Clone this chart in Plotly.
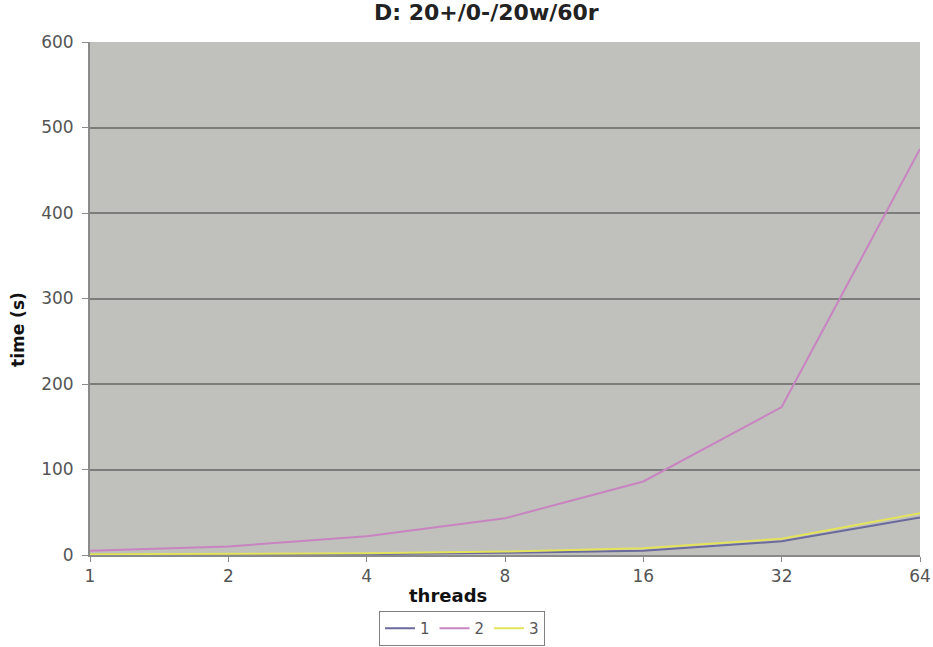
import plotly.graph_objects as go

# Thread counts (categorical x axis) and run times in seconds
threads = ["1", "2", "4", "8", "16", "32", "64"]
series_1 = [0.5, 0.8, 1.0, 2.5, 5, 16, 44]
series_2 = [5, 10, 22, 43, 86, 173, 475]
series_3 = [1.0, 1.5, 2.0, 4.0, 8, 19, 49]

series_names = ["1", "2", "3"]
series_colors = ["#6a6a9c", "#c884c0", "#e4e45c"]

W, H = 933, 647
L, R, T, B = 90, 13, 42, 92
plot_w = W - L - R
plot_h = H - T - B

fig = go.Figure()
for name, vals, col in zip(series_names, [series_1, series_2, series_3], series_colors):
    fig.add_trace(go.Scatter(
        x=threads, y=vals, name=name, mode="lines",
        line=dict(color=col, width=2),
    ))

font_family = "DejaVu Sans, Verdana, sans-serif"

fig.update_layout(
    width=W, height=H,
    margin=dict(l=L, r=R, t=T, b=B, pad=0, autoexpand=False),
    paper_bgcolor="white",
    plot_bgcolor="#c0c0bc",
    font=dict(family=font_family, size=16, color="#555555"),
    showlegend=True,
    legend=dict(
        orientation="h",
        x=(462 - L) / plot_w, xanchor="center",
        y=-(611 - (T + plot_h)) / plot_h, yanchor="top",
        bordercolor="#808080", borderwidth=1,
        bgcolor="white",
        font=dict(size=15, color="#555555"),
        itemwidth=30,
        tracegroupgap=0,
    ),
    xaxis=dict(
        type="category",
        range=[0, 6],
        showgrid=False,
        showline=True, linecolor="#8a8a8a", linewidth=2,
        ticks="outside", ticklen=5, tickcolor="#8a8a8a",
        tickfont=dict(size=17, color="#555555"),
        zeroline=False,
        automargin=False,
    ),
    yaxis=dict(
        range=[0, 600],
        dtick=100,
        showgrid=True, gridcolor="#7c7c7c", gridwidth=2,
        showline=True, linecolor="#8a8a8a", linewidth=2,
        ticks="outside", ticklen=6, tickcolor="#8a8a8a",
        ticklabelstandoff=5,
        tickfont=dict(size=17, color="#555555"),
        zeroline=False,
        automargin=False,
    ),
    annotations=[
        dict(
            text="<b>D: 20+/0-/20w/60r</b>",
            xref="paper", yref="paper",
            x=(486 - L) / plot_w, y=1 + (T - 12) / plot_h,
            xanchor="center", yanchor="middle",
            showarrow=False,
            font=dict(size=22, color="#222222", family=font_family),
        ),
        dict(
            text="<b>threads</b>",
            xref="paper", yref="paper",
            x=(448 - L) / plot_w, y=-(595 - (T + plot_h)) / plot_h,
            xanchor="center", yanchor="middle",
            showarrow=False,
            font=dict(size=18, color="#111111", family=font_family),
        ),
        dict(
            text="<b>time (s)</b>",
            xref="paper", yref="paper",
            x=-(L - 18) / plot_w, y=1 - (330 - T) / plot_h,
            xanchor="center", yanchor="middle",
            textangle=-90,
            showarrow=False,
            font=dict(size=17, color="#111111", family=font_family),
        ),
    ],
)

fig.write_html("out.html")
